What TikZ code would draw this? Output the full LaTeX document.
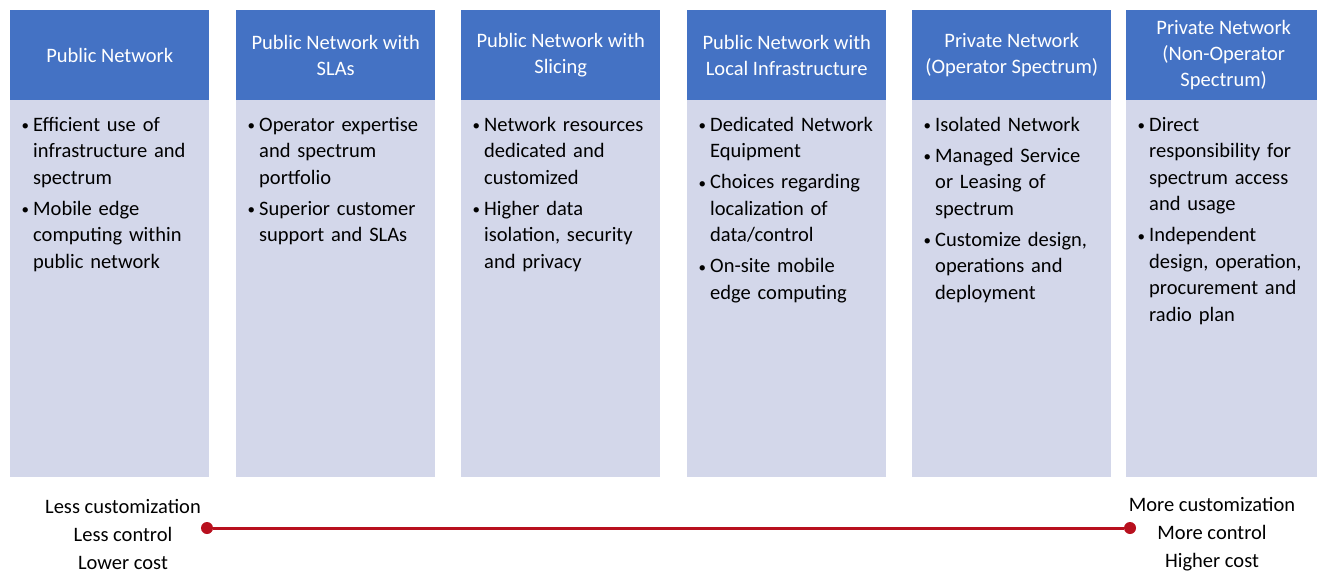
\documentclass[tikz,border=0pt]{standalone}
\usepackage{fontspec}
\setmainfont{Carlito}
\definecolor{hdrblue}{HTML}{4472C4}
\definecolor{bodylav}{HTML}{D3D7EA}
\definecolor{scalered}{HTML}{B8101E}
% small bullet mark placed in a fixed-width box
\newcommand\bmark{\makebox[12pt][l]{\hspace{0.5pt}\raisebox{0.6pt}{\fontsize{15}{15}\selectfont •}}}
% one bullet entry with a hanging indent; lines are broken by hand
\newcommand\bentry[1]{\noindent\hangindent=12pt\hangafter=1\rule{0pt}{16pt}\bmark#1\par}
\tikzset{
  hdr/.style={fill=hdrblue, text=white, anchor=north west, minimum width=199pt,
    minimum height=90pt, inner sep=0pt, align=center,
    font=\fontsize{20.5}{26}\selectfont},
  bodybox/.style={fill=bodylav, anchor=north west, minimum width=199pt,
    minimum height=377pt, inner sep=0pt},
  bullets/.style={anchor=north west, inner sep=0pt, text width=196pt,
    font=\fontsize{20.5}{26.5}\selectfont},
  scaletext/.style={align=center, inner sep=0pt, font=\fontsize{20.5}{28}\selectfont},
  enddot/.style={circle, fill=scalered, minimum size=12pt, inner sep=0pt},
  scaleline/.style={draw=scalered, line width=3pt}
}
\newcommand\bstart{\parskip=4.5pt\relax}
\begin{document}
\begin{tikzpicture}[x=1pt, y=-1pt]
\useasboundingbox (0,0) rectangle (1317,573);
\fill[white] (0,0) rectangle (1317,573);

% column bodies
\node[bodybox] (b1) at (10,100) {};
\node[bodybox] (b2) at (236,100) {};
\node[bodybox] (b3) at (461,100) {};
\node[bodybox] (b4) at (687,100) {};
\node[bodybox] (b5) at (912,100) {};
\node[bodybox, minimum width=195pt] (b6) at (1126,100) {};

% column headers
\node[hdr] (h1) at (10,10) {Public Network};
\node[hdr] (h2) at (236,10) {Public Network with\\SLAs};
\node[hdr] (h3) at (461,10) {Public Network with\\Slicing};
\node[hdr] (h4) at (687,10) {Public Network with\\Local Infrastructure};
\node[hdr] (h5) at (912,10) {Private Network\\(Operator Spectrum)};
\node[hdr, minimum width=195pt] (h6) at (1126,10) {Private Network\\(Non-Operator\\Spectrum)};

% bullet texts
\node[bullets] (t1) at (21,115) {\bstart
  \bentry{Efficient use of\newline infrastructure and\newline spectrum}
  \bentry{Mobile edge\newline computing within\newline public network}};
\node[bullets] (t2) at (247,115) {\bstart
  \bentry{Operator expertise\newline and spectrum\newline portfolio}
  \bentry{Superior customer\newline support and SLAs}};
\node[bullets] (t3) at (472,115) {\bstart
  \bentry{Network resources\newline dedicated and\newline customized}
  \bentry{Higher data\newline isolation, security\newline and privacy}};
\node[bullets] (t4) at (698,115) {\bstart
  \bentry{Dedicated Network\newline Equipment}
  \bentry{Choices regarding\newline localization of\newline data/control}
  \bentry{On-site mobile\newline edge computing}};
\node[bullets] (t5) at (923,115) {\bstart
  \bentry{Isolated Network}
  \bentry{Managed Service\newline or Leasing of\newline spectrum}
  \bentry{Customize design,\newline operations and\newline deployment}};
\node[bullets] (t6) at (1137,115) {\bstart
  \bentry{Direct\newline responsibility for\newline spectrum access\newline and usage}
  \bentry{Independent\newline design, operation,\newline procurement and\newline radio plan}};

% customization scale
\node[scaletext] (lo) at (123,534.5) {Less customization\\Less control\\Lower cost};
\node[scaletext] (hi) at (1212,534.5) {More customization\\More control\\Higher cost};
\node[enddot] (dl) at (207,528) {};
\node[enddot] (dr) at (1130,528) {};
\draw[scaleline] (dl) -- (dr);
\end{tikzpicture}
\end{document}
